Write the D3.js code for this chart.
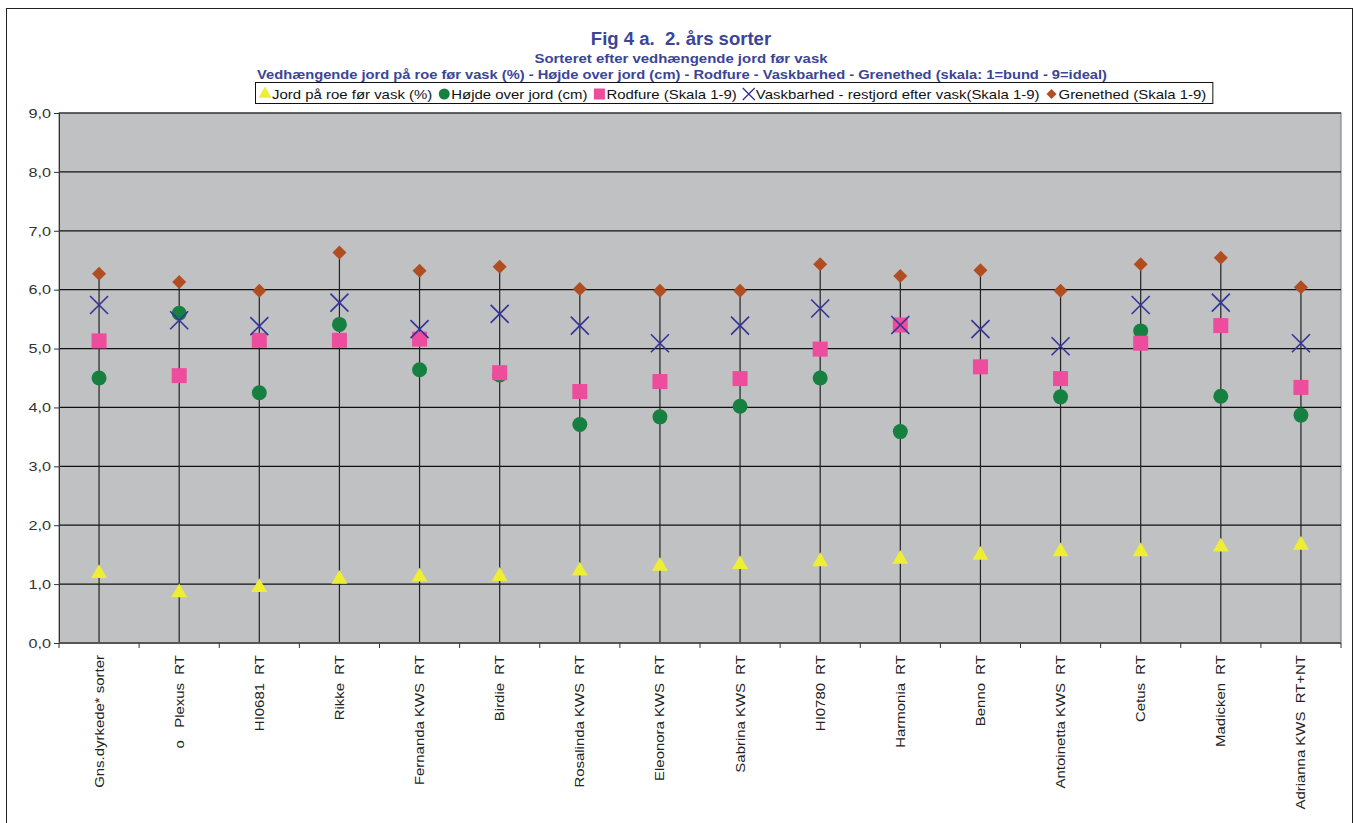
<!DOCTYPE html>
<html><head><meta charset="utf-8">
<script src="https://cdn.jsdelivr.net/npm/d3@7"></script>
<style>
body{margin:0;background:#fff;}
text{font-family:"Liberation Sans",Arial,sans-serif;}
</style></head>
<body><svg id="c" width="1354" height="823"></svg>
<script>
const categories = ["Gns.dyrkede* sorter","o   Plexus  RT","HI0681  RT","Rikke  RT","Fernanda KWS  RT","Birdie  RT","Rosalinda KWS  RT","Eleonora KWS  RT","Sabrina KWS  RT","HI0780  RT","Harmonia  RT","Benno  RT","Antoinetta KWS  RT","Cetus  RT","Madicken  RT","Adrianna KWS  RT+NT"];
const jord      = [1.20,0.87,0.96,1.10,1.14,1.15,1.24,1.32,1.35,1.40,1.44,1.51,1.57,1.57,1.65,1.68];
const hojde     = [4.50,5.60,4.25,5.41,4.64,4.55,3.71,3.84,4.02,4.50,3.59,null,4.18,5.30,4.19,3.87];
const rodfure   = [5.13,4.54,5.14,5.14,5.16,4.59,4.27,4.44,4.49,4.99,5.40,4.69,4.49,5.09,5.39,4.34];
const vaskbar   = [5.74,5.48,5.38,5.78,5.33,5.59,5.39,5.09,5.39,5.68,5.40,5.33,5.04,5.74,5.78,5.09];
const grenethed = [6.27,6.13,5.98,6.63,6.32,6.39,6.01,5.98,5.98,6.43,6.23,6.33,5.98,6.43,6.54,6.04];
const yTicks = [0,1,2,3,4,5,6,7,8,9];
const seriesNames = ["Jord på roe før vask (%)","Højde over jord (cm)","Rodfure (Skala 1-9)","Vaskbarhed - restjord efter vask(Skala 1-9)","Grenethed (Skala 1-9)"];
const titleText = "Fig 4 a.  2. års sorter";
const subtitle1 = "Sorteret efter vedhængende jord før vask";
const subtitle2 = "Vedhængende jord på roe før vask (%) - Højde over jord (cm) - Rodfure - Vaskbarhed - Grenethed (skala: 1=bund - 9=ideal)";

const svg = d3.select("#c");
const L=59, R=1341, T=113, B=643;
const SX = 1.15;
const titleColor="#3a4597";
const colors = {jord:"#eeee33", hojde:"#168040", rod:"#ee4c9c", vask:"#333399", gren:"#b04e22"};

// outer frame
svg.append("rect").attr("x",6.5).attr("y",8.5).attr("width",1346).attr("height",830).attr("fill","#fff").attr("stroke","#222").attr("stroke-width",1);

const x = d3.scaleBand().domain(categories).range([L,R]).paddingInner(0).paddingOuter(0);
const y = d3.scaleLinear().domain([0,9]).range([B,T]);
const cx = d => x(d)+x.bandwidth()/2;

// plot bg
svg.append("rect").attr("x",L).attr("y",T).attr("width",R-L).attr("height",B-T).attr("fill","#c0c1c3").attr("stroke","#888").attr("stroke-width",1.2);

// gridlines
svg.append("g").selectAll("line").data(yTicks.filter(t=>t>0)).join("line")
  .attr("x1",L).attr("x2",R).attr("y1",d=>y(d)).attr("y2",d=>y(d)).attr("stroke","#111").attr("stroke-width",1.2);

// drop lines
const g = svg.append("g");
g.selectAll("line").data(categories).join("line")
  .attr("x1",d=>cx(d)).attr("x2",d=>cx(d))
  .attr("y1",y(0)).attr("y2",(d,i)=>y(d3.max([jord[i],hojde[i],rodfure[i],vaskbar[i],grenethed[i]])))
  .attr("stroke","#222").attr("stroke-width",1.2);

// axes
const yAxis = d3.axisLeft(y).tickValues(yTicks).tickSize(5).tickFormat(d=>d3.format(".1f")(d).replace(".",","));
const ya = svg.append("g").attr("transform",`translate(${L},0)`).call(yAxis);
ya.select(".domain").attr("stroke","#333");
ya.selectAll(".tick line").attr("stroke","#333");
ya.selectAll(".tick text").attr("font-size",13.5).attr("fill","#333").attr("x",0)
  .attr("transform",`translate(-8,0) scale(1.2,1)`).style("font-family","'Liberation Sans',Arial,sans-serif");

// x axis line + ticks at boundaries
svg.append("line").attr("x1",L).attr("x2",R).attr("y1",B).attr("y2",B).attr("stroke","#555").attr("stroke-width",2);
svg.append("g").selectAll("line").data(categories.concat(["__end"])).join("line")
  .attr("x1",(d,i)=>L+i*x.bandwidth()).attr("x2",(d,i)=>L+i*x.bandwidth())
  .attr("y1",B).attr("y2",B+5).attr("stroke","#333");

// x labels
svg.append("g").selectAll("text").data(categories).join("text")
  .attr("transform",d=>`translate(${cx(d)},655) rotate(-90) scale(${SX},1)`)
  .attr("text-anchor","end").attr("dy","0.35em")
  .attr("font-size",13).attr("fill","#222").style("white-space","pre")
  .text(d=>d);

// markers
const mk = svg.append("g");
const sym = (type,size)=>d3.symbol().type(type).size(size)();
mk.selectAll(".tri").data(jord).join("path").attr("class","tri")
  .attr("d",sym(d3.symbolTriangle,110))
  .attr("transform",(d,i)=>`translate(${cx(categories[i])},${y(d)+1})`)
  .attr("fill",colors.jord);
mk.selectAll(".cir").data(hojde.map((v,i)=>({v,i})).filter(d=>d.v!=null)).join("circle").attr("class","cir")
  .attr("cx",d=>cx(categories[d.i])).attr("cy",d=>y(d.v)).attr("r",7.5)
  .attr("fill",colors.hojde);
mk.selectAll(".sq").data(rodfure).join("rect").attr("class","sq")
  .attr("x",(d,i)=>cx(categories[i])-7.5).attr("y",d=>y(d)-7.5).attr("width",15).attr("height",15)
  .attr("fill",colors.rod);
mk.selectAll(".x").data(vaskbar).join("path").attr("class","x")
  .attr("d","M-9,-9L9,9M-9,9L9,-9")
  .attr("transform",(d,i)=>`translate(${cx(categories[i])},${y(d)})`)
  .attr("stroke",colors.vask).attr("stroke-width",1.6).attr("fill","none");
mk.selectAll(".dia").data(grenethed).join("path").attr("class","dia")
  .attr("d","M0,-7L7,0L0,7L-7,0Z")
  .attr("transform",(d,i)=>`translate(${cx(categories[i])},${y(d)})`)
  .attr("fill",colors.gren);

// titles
const htext = (txt,xx,yy,size,sx)=>svg.append("text").attr("transform",`translate(${xx},${yy}) scale(${sx},1)`)
  .attr("text-anchor","middle").attr("font-size",size).attr("font-weight","bold").attr("fill",titleColor)
  .style("white-space","pre").text(txt);
htext(titleText,681,45,18,1.03);
htext(subtitle1,681,63,13,SX);
htext(subtitle2,682,79,13,1.13);

// legend
const lg = svg.append("g");
const lbox = lg.append("rect").attr("y",82.5).attr("height",21).attr("fill","#fff").attr("stroke","#111");
let lx = 259;
const ly = 94;
const legendMarkers = [
  s=>s.append("path").attr("d",sym(d3.symbolTriangle,75)).attr("fill",colors.jord),
  s=>s.append("circle").attr("r",5.5).attr("fill",colors.hojde),
  s=>s.append("rect").attr("x",-5.5).attr("y",-5.5).attr("width",11).attr("height",11).attr("fill",colors.rod),
  s=>s.append("path").attr("d","M-6,-6L6,6M-6,6L6,-6").attr("stroke",colors.vask).attr("stroke-width",1.4),
  s=>s.append("path").attr("d","M0,-5L5,0L0,5L-5,0Z").attr("fill",colors.gren)
];
seriesNames.forEach((n,i)=>{
  const m = lg.append("g").attr("transform",`translate(${lx+6},${ly})`);
  legendMarkers[i](m);
  const t = lg.append("text").attr("transform",`translate(${lx+13},${ly}) scale(${SX},1)`).attr("dy","0.35em").attr("font-size",13).attr("fill","#111").text(n);
  lx = lx + 13 + t.node().getComputedTextLength()*SX + 6;
});
lbox.attr("x",255.5).attr("width",lx-255);
</script></body></html>
